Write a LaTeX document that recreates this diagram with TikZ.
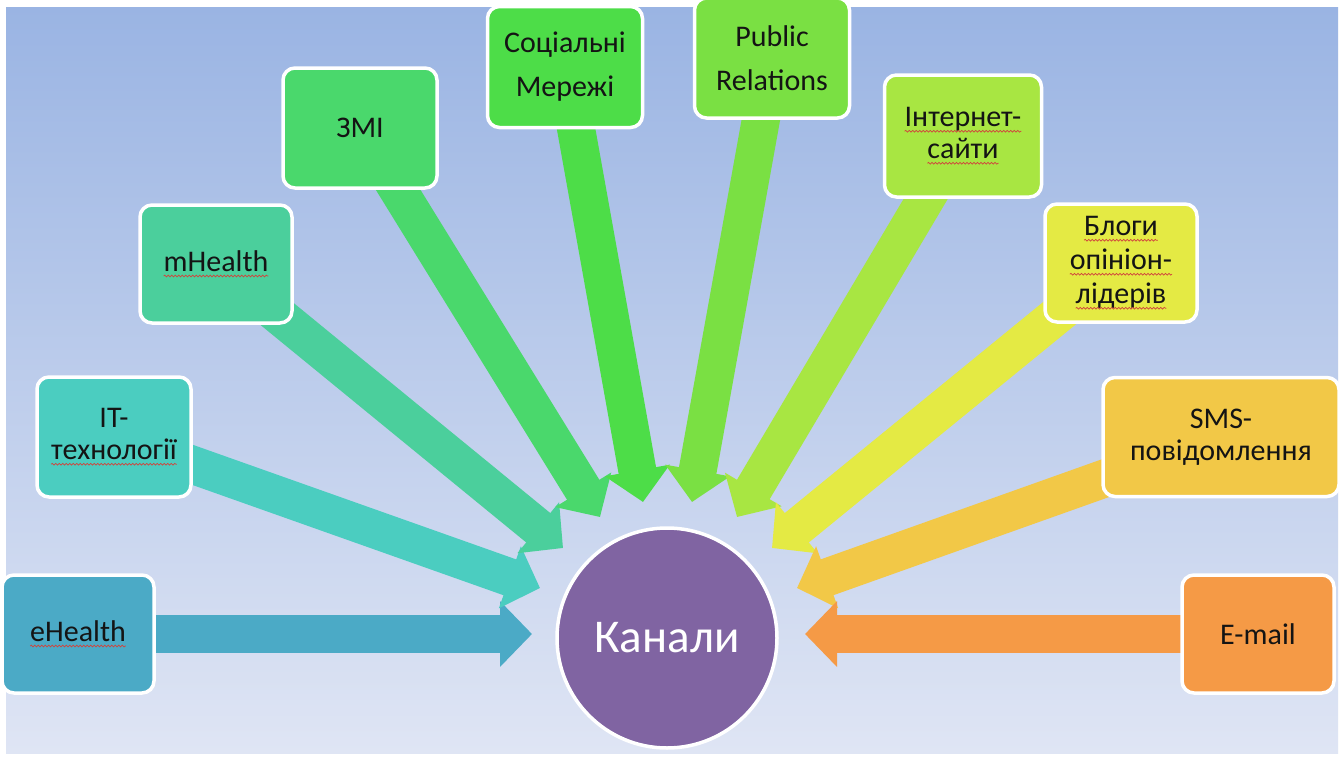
\documentclass[tikz,border=0pt]{standalone}
\usepackage{fontspec}
\setmainfont{Carlito}
\usetikzlibrary{arrows.meta,decorations.pathmorphing}
\pgfdeclarelayer{back}
\pgfdeclarelayer{mid}
\pgfsetlayers{back,mid,main}
\definecolor{bgtop}{HTML}{9AB4E3}
\definecolor{bgbot}{HTML}{DFE5F4}
\definecolor{txt}{HTML}{141414}
\definecolor{sq}{HTML}{D0443C}
\definecolor{cE}{HTML}{4BAAC6}
\definecolor{cIT}{HTML}{4BCDC0}
\definecolor{cMH}{HTML}{4BCF9C}
\definecolor{cZ}{HTML}{4AD86C}
\definecolor{cS}{HTML}{4DDD48}
\definecolor{cPR}{HTML}{7AE043}
\definecolor{cI}{HTML}{A8E642}
\definecolor{cB}{HTML}{E4EA44}
\definecolor{cSMS}{HTML}{F2C847}
\definecolor{cEm}{HTML}{F59A46}
\definecolor{cK}{HTML}{8064A2}
\newcommand\sqw[1]{\tikz[baseline=(q.base)]{\node[rectangle, draw=none, fill=none,
    inner sep=0pt, outer sep=0pt, minimum width=0pt, minimum height=0pt,
    text=txt, anchor=base] (q) at (0,0) {#1};
  \draw[sq, line width=0.7pt, sharp corners, decorate,
    decoration={snake, amplitude=0.9pt, segment length=3.5pt}]
    ([yshift=-4.5pt]q.base west) -- ([yshift=-4.5pt]q.base east);}}
\begin{document}
\begin{tikzpicture}[x=1pt,y=-1pt,
  box/.style={rectangle, rounded corners=12pt, draw=white, line width=3.5pt,
    minimum width=152pt, minimum height=118pt, inner sep=0pt, text=txt,
    align=center, font=\fontsize{30}{32}\selectfont},
  wide/.style={font=\fontsize{30}{44}\selectfont},
  arr/.style={line width=38pt, -{Triangle[length=32pt 0 0, width=64pt 0 0]}}]
\useasboundingbox (0,0) rectangle (1342,758);
\begin{pgfonlayer}{back}
\fill[white] (0,0) rectangle (1342,758);
\shade[top color=bgtop, bottom color=bgbot] (6,7) rectangle (1338,753);
\end{pgfonlayer}

\node[box, fill=cE] (eh) at (78,634) {\sqw{eHealth}};
\node[box, fill=cIT, minimum width=154pt, minimum height=120pt] (it) at (114,437) {IT-\\\sqw{технології}};
\node[box, fill=cMH] (mh) at (216,264) {\sqw{mHealth}};
\node[box, fill=cZ, minimum width=154pt, minimum height=120pt] (zmi) at (360,128) {ЗМІ};
\node[box, fill=cS, wide, minimum width=155pt, minimum height=121pt] (soc) at (565,67) {Соціальні\\Мережі};
\node[box, fill=cPR, wide, minimum width=155pt, minimum height=120pt] (pr) at (772,58) {Public\\Relations};
\node[box, fill=cI, minimum width=157pt, minimum height=122pt] (inet) at (963,136) {\sqw{Інтернет-}\\\sqw{сайти}};
\node[box, fill=cB, font=\fontsize{30}{34}\selectfont] (blog) at (1121,263) {\sqw{Блоги}\\\sqw{опініон-}\\\sqw{лідерів}};
\node[box, fill=cSMS, minimum width=236pt, minimum height=119pt] (sms) at (1221,437) {SMS-\\повідомлення};
\node[box, fill=cEm] (em) at (1258,634) {E-mail};

\node[circle, fill=cK, draw=white, line width=3.5pt, minimum size=220pt, inner sep=0pt,
  text=white, font=\fontsize{47}{50}\selectfont] (k) at (667,638) {Канали};

\coordinate (tE) at (532,634);
\coordinate (tIT) at (540,588);
\coordinate (tMH) at (563,548);
\coordinate (tZ) at (600,517);
\coordinate (tS) at (643,502);
\coordinate (tPR) at (692,502);
\coordinate (tI) at (737,517);
\coordinate (tB) at (772,548);
\coordinate (tSMS) at (797,588);
\coordinate (tEm) at (805,634);

\begin{pgfonlayer}{mid}
\draw[arr, draw=cE] (eh.center) -- (tE);
\draw[arr, draw=cIT] (it.center) -- (tIT);
\draw[arr, draw=cMH] (mh.center) -- (tMH);
\draw[arr, draw=cZ] (zmi.center) -- (tZ);
\draw[arr, draw=cS] (soc.center) -- (tS);
\draw[arr, draw=cPR] (pr.center) -- (tPR);
\draw[arr, draw=cI] (inet.center) -- (tI);
\draw[arr, draw=cB] (blog.center) -- (tB);
\draw[arr, draw=cSMS] (sms.center) -- (tSMS);
\draw[arr, draw=cEm] (em.center) -- (tEm);
\end{pgfonlayer}
\end{tikzpicture}
\end{document}
